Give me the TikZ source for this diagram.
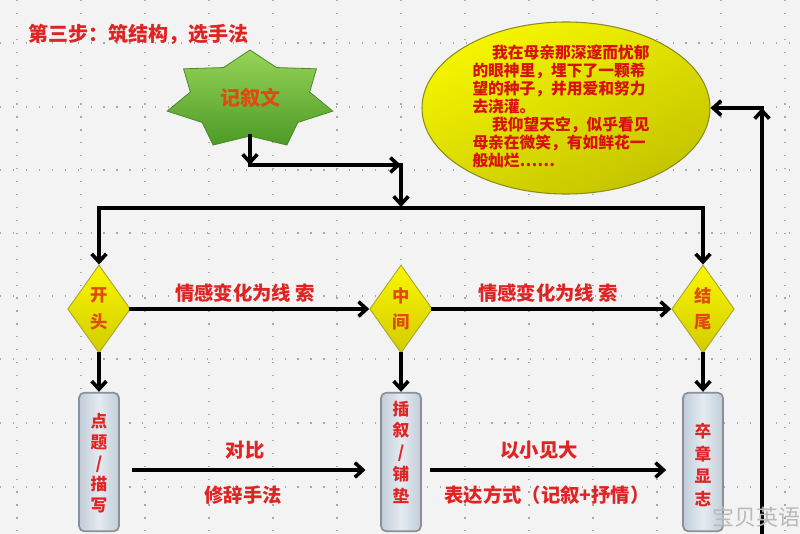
\documentclass[tikz,border=0pt]{standalone}
\usepackage{fontspec}
\setmainfont{Noto Sans CJK SC}
\usetikzlibrary{shapes.geometric,arrows.meta}
\definecolor{bgc}{HTML}{F3F3F3}
\definecolor{gridc}{HTML}{A8A8A8}
\definecolor{redtxt}{HTML}{E02424}
\definecolor{orgtxt}{HTML}{E04A10}
\definecolor{elltxtc}{HTML}{D81010}
\definecolor{dyel1}{HTML}{FAF600}
\definecolor{dyel2}{HTML}{D2CC00}
\definecolor{dyelb}{HTML}{A8A830}
\definecolor{eyel1}{HTML}{F6F600}
\definecolor{eyel2}{HTML}{C4C400}
\definecolor{eyelb}{HTML}{8C8C20}
\definecolor{grn1}{HTML}{98D458}
\definecolor{grn2}{HTML}{4C9A26}
\definecolor{grnb}{HTML}{4A8A2A}
\definecolor{box1}{HTML}{C2CDD8}
\definecolor{box2}{HTML}{E4EBF1}
\definecolor{boxb}{HTML}{8A9098}
\begin{document}
\begin{tikzpicture}[x=0.75pt,y=-0.75pt,
  gridsty/.style={draw=gridc,line width=0.9pt,dash pattern=on 0.9pt off 8.8pt},
  arr/.style={draw=black,line width=2.7pt,line cap=rect,-{Straight Barb[length=6pt,width=11pt]}},
  ln/.style={draw=black,line width=2.7pt,line cap=rect},
  dia/.style={diamond,draw=dyelb,line width=0.7pt,top color=dyel1,bottom color=dyel2,
    minimum width=47pt,minimum height=66pt,inner sep=0pt,align=center,text=orgtxt,
    font=\fontsize{13}{20}\selectfont\bfseries},
  vbox/.style={rectangle,rounded corners=4pt,draw=boxb,line width=1.3pt,
    left color=box1,right color=box1,middle color=box2,minimum width=30pt,minimum height=104pt,inner sep=0pt},
  vtxt/.style={align=center,text=redtxt,inner sep=0pt},
  lbl/.style={text=redtxt,font=\fontsize{14.5}{16}\selectfont\bfseries,inner sep=0pt}
]
\useasboundingbox (0,0) rectangle (800,534);
\fill[bgc] (0,0) rectangle (800,534);
\foreach \gx in {17,81,145,209,273,337,401,465,529,593,657,721,785}
  \draw[gridsty] (\gx,0) -- (\gx,534);
\foreach \gy in {43,107,170,233,296,359,423,487}
  \draw[gridsty] (0,\gy) -- (800,\gy);

% title
\node[anchor=west,text=redtxt,font=\fontsize{15}{18}\selectfont\bfseries,inner sep=0pt] (title) at (28,34) {第三步：筑结构，选手法};

% star
\path[draw=grnb,line width=0.6pt,top color=grn1,bottom color=grn2]
  (250,50) \foreach \i in {0,...,6} {
    -- ({250+0.72*85*cos(90+\i*360/7+180/7)},{100-0.72*50*sin(90+\i*360/7+180/7)})
    -- ({250+85*cos(90+(\i+1)*360/7)},{100-50*sin(90+(\i+1)*360/7)})
  } -- cycle;
\node[text=orgtxt,font=\fontsize{15}{18}\selectfont\bfseries,inner sep=0pt] (star) at (250,98) {记叙文};
\coordinate (starbot) at (250,136);

% ellipse
\node[ellipse,draw=eyelb,line width=0.8pt,top color=eyel1,bottom color=eyel2,shading angle=25,
  minimum width=216pt,minimum height=129pt] (ell) at (566,108) {};
\node[align=left,text=elltxtc,font=\fontsize{11.8}{13.5}\selectfont\bfseries,inner sep=0pt] (elltxt) at (561,107)
{\hspace*{1.25em}我在母亲那深邃而忧郁\\
的眼神里，埋下了一颗希\\
望的种子，并用爱和努力\\
去浇灌。\\
\hspace*{1.25em}我仰望天空，似乎看见\\
母亲在微笑，有如鲜花一\\
般灿烂……};

% diamonds
\node[dia] (d1) at (99,309) {开\\头};
\node[dia] (d2) at (401,309) {中\\间};
\node[dia] (d3) at (703,309) {结\\尾};

% boxes
\node[vbox] (b1) at (99,462) {};
\node[vbox] (b2) at (401,462) {};
\node[vbox] (b3) at (703,462) {};
\node[vtxt,font=\fontsize{12.5}{15.75}\selectfont\bfseries] (t1) at (99,463) {点\\题\\/\\描\\写};
\node[vtxt,font=\fontsize{12.5}{16.3}\selectfont\bfseries] (t2) at (401,452) {插\\叙\\/\\铺\\垫};
\node[vtxt,font=\fontsize{12.5}{17}\selectfont\bfseries] (t3) at (703,465) {卒\\章\\显\\志};

% labels
\node[lbl] (l1) at (245,293) {情感变化为线 索};
\node[lbl] (l2) at (548,293) {情感变化为线 索};
\node[lbl] (l3) at (245,450) {对比};
\node[lbl] (l4) at (243,495) {修辞手法};
\node[lbl] (l5) at (539,450) {以小见大};
\node[lbl] (l6) at (547,495) {表达方式（记叙+抒情）};

% connectors
\coordinate (j1) at (250,165);
\coordinate (j2) at (401,165);
\coordinate (j3) at (401,207);
\coordinate (tl) at (99,208);
\coordinate (tr) at (703,208);
\coordinate (rb) at (762,540);
\coordinate (rc) at (762,108);

\draw[arr] (starbot) -- (j1);
\draw[arr] (j1) -- (j2);
\draw[arr] (j2) -- (j3);
\draw[ln] (tl) -- (tr);
\draw[arr] (tl) -- (d1.north);
\draw[arr] (tr) -- (d3.north);

\draw[arr] (d1.east) -- (d2.west);
\draw[arr] (d2.east) -- (d3.west);
\draw[arr] (d1.south) -- (b1.north);
\draw[arr] (d2.south) -- (b2.north);
\draw[arr] (d3.south) -- (b3.north);

\draw[arr,shorten <=10.5pt,shorten >=11pt] (b1.east |- 0,470) -- (b2.west |- 0,470);
\draw[arr,shorten <=7.5pt,shorten >=12pt] (b2.east |- 0,470) -- (b3.west |- 0,470);

\draw[arr] (rb) -- (rc);
\draw[arr] (rc) -- (ell.east);

% watermark
\node[text=gray!55,font=\fontsize{16.5}{18}\selectfont,inner sep=0pt] (wm) at (756,517) {宝贝英语};
\end{tikzpicture}
\end{document}
